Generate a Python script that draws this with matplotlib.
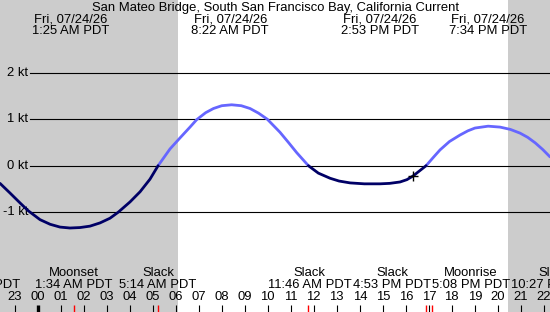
import matplotlib
matplotlib.use("Agg")
import matplotlib.pyplot as plt
import numpy as np
from matplotlib.transforms import blended_transform_factory

plt.rcParams['font.family'] = ['Liberation Sans', 'DejaVu Sans']

# ---------------- data ----------------
title = "San Mateo Bridge, South San Francisco Bay, California Current"

hours = list(range(-1, 23))
hour_labels = ["23"] + [f"{h:02d}" for h in range(0, 23)]

kt_levels = [-1, 0, 1, 2]
kt_labels = ["-1 kt", "0 kt", "1 kt", "2 kt"]

# current speed (kt) at times (hours since midnight)
times = [-1.64, -1.20, -0.77, -0.41, 0.10, 0.54, 0.97, 1.40, 1.84, 2.27, 2.71,
         3.14, 3.50, 4.01, 4.45, 4.88, 5.233, 5.75, 6.19, 6.62, 6.91, 7.30,
         7.64, 8.00, 8.43, 8.85, 9.23, 9.60, 9.98, 10.53, 10.90, 11.26, 11.767,
         12.20, 12.71, 13.10, 13.58, 14.20, 14.88, 15.30, 15.75, 16.05, 16.32,
         16.883, 17.20, 17.49, 17.90, 18.36, 18.70, 19.01, 19.58, 20.10, 20.55,
         20.97, 21.30, 21.63, 21.95, 22.27]
speeds = [-0.38, -0.59, -0.80, -0.97, -1.16, -1.26, -1.32, -1.34, -1.33, -1.30, -1.23,
          -1.13, -1.00, -0.78, -0.56, -0.29, 0.00, 0.36, 0.60, 0.83, 0.99, 1.14,
          1.23, 1.29, 1.31, 1.29, 1.23, 1.13, 1.00, 0.72, 0.50, 0.28, 0.00,
          -0.16, -0.27, -0.33, -0.37, -0.39, -0.39, -0.38, -0.35, -0.30, -0.22,
          0.00, 0.18, 0.34, 0.52, 0.66, 0.75, 0.81, 0.85, 0.83, 0.78,
          0.70, 0.61, 0.49, 0.35, 0.19]

now_time = 16.32
now_speed = -0.22

sunrise = 6.10
sunset = 20.45

max_times = [1.417, 8.367, 14.883, 19.567]
max_dates = ["Fri, 07/24/26", "Fri, 07/24/26", "Fri, 07/24/26", "Fri, 07/24/26"]
max_labels = ["1:25 AM PDT", "8:22 AM PDT", "2:53 PM PDT", "7:34 PM PDT"]

event_times = [-2.47, 1.567, 5.233, 11.767, 16.883, 17.133, 22.45]
event_names = ["Slack", "Moonset", "Slack", "Slack", "Slack", "Moonrise", "Slack"]
event_labels = ["9:32 PM PDT", "1:34 AM PDT", "5:14 AM PDT", "11:46 AM PDT",
                "4:53 PM PDT", "5:08 PM PDT", "10:27 PM PDT"]
label_shift = [0, 0, 0, 0.05, -1.48, 1.70, 0]

# ---------------- layout ----------------
W, H = 550, 312
fig = plt.figure(figsize=(W / 100, H / 100), dpi=100)
ax = fig.add_axes([0, 0, 1, 1])
ax.set_axis_off()

x_left, x_right = -1.64, 22.27
zero_px, px_per_kt = 165.7, 46.5
ax.set_xlim(x_left, x_right)
ax.set_ylim(-(H - zero_px) / px_per_kt, zero_px / px_per_kt)

def fy(px):
    return 1 - px / H

bt = blended_transform_factory(ax.transData, ax.transAxes)
fs = 9.4
gray = "#cccccc"
navy = "#000066"
light = "#6666ff"

# night shading
ax.axvspan(x_left - 1, sunrise, color=gray, lw=0, zorder=0)
ax.axvspan(sunset, x_right + 1, color=gray, lw=0, zorder=0)

# kt grid lines and labels
for lv, lab in zip(kt_levels, kt_labels):
    ax.axhline(lv, xmin=30 / W, xmax=1, color="black", lw=0.8, zorder=1)
    ax.text(28 / W, lv, lab, transform=blended_transform_factory(ax.transAxes, ax.transData),
            ha="right", va="center", fontsize=fs, zorder=2)

# curve, split by sign
t = np.array(times)
s = np.array(speeds)
neg = np.ma.masked_where(s > 0, s)
pos = np.ma.masked_where(s < 0, s)
ax.plot(t, pos, color=light, lw=2.0, zorder=3, solid_capstyle="round", solid_joinstyle="round")
ax.plot(t, neg, color=navy, lw=2.0, zorder=3, solid_capstyle="round", solid_joinstyle="round")
ax.plot([now_time], [now_speed], marker="+", color="black", ms=7, mew=1.0, zorder=4)

# title and max events
ax.text(0.5, fy(7.5), title, transform=ax.transAxes, ha="center", va="center", fontsize=fs)
for tm, d, lab in zip(max_times, max_dates, max_labels):
    ax.text(tm, fy(19.5), d, transform=bt, ha="center", va="center", fontsize=fs)
    ax.text(tm, fy(31.5), lab, transform=bt, ha="center", va="center", fontsize=fs)

# bottom events
for tm, nm, lab, sh in zip(event_times, event_names, event_labels, label_shift):
    ax.text(tm + sh, fy(273), nm, transform=bt, ha="center", va="center", fontsize=fs)
    ax.text(tm + sh, fy(285.5), lab, transform=bt, ha="center", va="center", fontsize=fs)
    if x_left <= tm <= x_right:
        ax.plot([tm, tm], [fy(305), fy(312)], transform=bt, color="red", lw=1.0,
                solid_capstyle="butt", zorder=5, clip_on=False)

# hour ticks and labels
for h, lab in zip(hours, hour_labels):
    ax.text(h, fy(297.5), lab, transform=bt, ha="center", va="center", fontsize=fs)
    ax.plot([h, h], [fy(305), fy(312)], transform=bt, color="black",
            lw=2.4 if h == 0 else 0.8, solid_capstyle="butt", zorder=5, clip_on=False)

fig.savefig("out.png", dpi=100)
